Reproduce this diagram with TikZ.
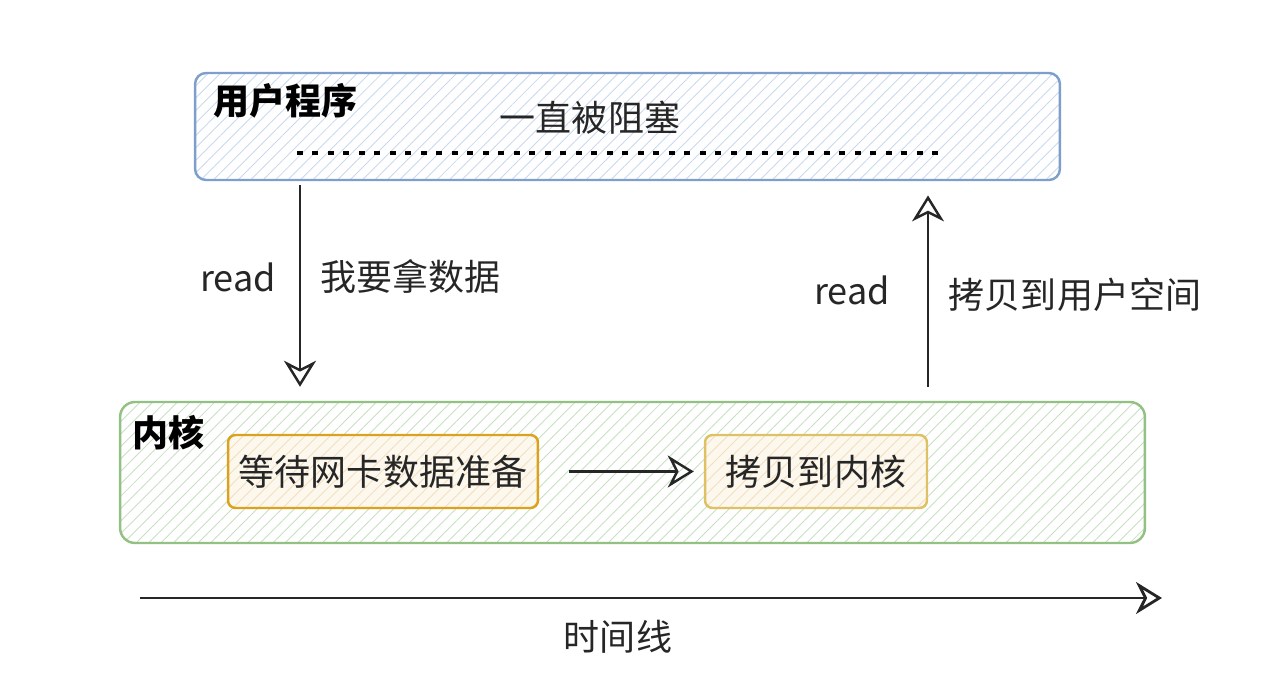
\documentclass[tikz,border=0pt]{standalone}
\usepackage{fontspec}
\setmainfont{Noto Sans CJK SC}
\usetikzlibrary{arrows.meta,positioning,patterns.meta}

\definecolor{userline}{HTML}{7E9FCC}
\definecolor{userhatch}{HTML}{C9D8EE}
\definecolor{kernelline}{HTML}{93C083}
\definecolor{kernelhatch}{HTML}{C8E0C2}
\definecolor{waitline}{HTML}{DCA21E}
\definecolor{copyline}{HTML}{DEC065}
\definecolor{stagefill}{HTML}{FDF8EE}
\definecolor{stagehatch}{HTML}{F4DFBC}

\begin{document}
\begin{tikzpicture}[
                x=0.02cm, y=-0.02cm,
                every node/.style={font=\fontsize{20.5}{24}\selectfont, text=black!85},
                title/.style={font=\fontsize{20.5}{24}\selectfont\bfseries, text=black},
                area/.style={draw, line width=1.4pt, pattern={Lines[angle=45,distance=5pt,line width=0.5pt]}},
                stagebox/.style={draw, rounded corners=0.15cm, line width=1.4pt, minimum height=1.46cm, inner sep=0pt,
                    preaction={fill=stagefill}, pattern={Lines[angle=45,distance=5pt,line width=0.5pt]}, pattern color=stagehatch},
                arrow/.style={-{Stealth[open, length=0.52cm, width=0.64cm, inset=0.16cm]}, line width=1.4pt, black!85},
                waitdots/.style={line width=2.4pt, dash pattern=on 0.12cm off 0.19cm, black}
            ]

            \useasboundingbox (0,0) rectangle (1275,679);

            % user space
            \node[area, draw=userline, pattern color=userhatch, rounded corners=0.22cm,
                minimum width=17.3cm, minimum height=2.14cm] (user) at (627.5,126.5) {};
            \node[title, anchor=west] (usertitle) at (207,101) {用户程序};
            \node (blocked) at (590,118) {一直被阻塞};
            \coordinate (waitstart) at (297,153);
            \coordinate (waitend) at (946,153);
            \draw[waitdots] (waitstart) -- (waitend);

            % kernel space
            \node[area, draw=kernelline, pattern color=kernelhatch, rounded corners=0.3cm,
                minimum width=20.5cm, minimum height=2.82cm] (kernel) at (632.5,472.5) {};
            \node[title, anchor=west] (kerneltitle) at (126,433) {内核};
            \node[stagebox, draw=waitline, minimum width=6.2cm] (waitdata) at (383,471.5) {等待网卡数据准备};
            \node[stagebox, draw=copyline, minimum width=4.44cm] (copykernel) at (816,471.5) {拷贝到内核};
            \draw[arrow, shorten <=0.6cm, shorten >=0.2cm] (waitdata) -- (copykernel);

            % read calls
            \coordinate (readdown) at (300,0);
            \coordinate (readup) at (928,0);
            \draw[arrow, shorten <=0.1cm, shorten >=0.28cm] (readdown |- user.south) -- (readdown |- kernel.north);
            \draw[arrow, shorten <=0.28cm, shorten >=0.3cm] (readup |- kernel.north) -- (readup |- user.south);

            \node (readleft) at (238,277) {read};
            \node[right=0.65cm of readleft] (ask) {我要拿数据};
            \node (readright) at (852,290) {read};
            \node (copyuser) at (1075,295) {拷贝到用户空间};

            % time axis
            \coordinate (tstart) at (140,598);
            \coordinate (tend) at (1162,598);
            \draw[arrow, line width=1.6pt] (tstart) -- (tend);
            \node (timeline) at (618,637) {时间线};

        \end{tikzpicture}
\end{document}
